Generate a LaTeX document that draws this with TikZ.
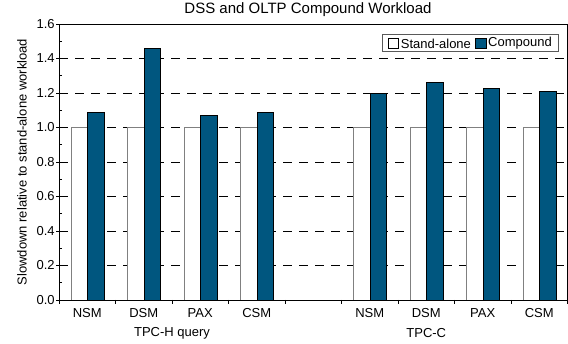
\documentclass[tikz,border=0pt]{standalone}
\usepackage{fontspec}
\setmainfont{Liberation Sans}
\usetikzlibrary{positioning}
\definecolor{cmpblue}{RGB}{0,86,127}

\begin{document}
\begin{tikzpicture}[x=1pt,y=1pt,line width=0.6pt,
                    font=\fontsize{13}{15}\selectfont,
                    alone/.style={draw=gray,fill=white},
                    cmp/.style={draw=black,fill=cmpblue},
                    gridline/.style={dash pattern=on 9pt off 7pt},
                    swatch/.style={draw=black,minimum size=10.5pt,inner sep=0pt}]
  \useasboundingbox (0,0) rectangle (568,343);

  \begin{scope}[shift={(59,43)},x=56.5pt,y=172.5pt]
    % dashed grid
    \foreach \v in {0.2,0.4,0.6,0.8,1.0,1.2,1.4}
      \draw[gridline] (0,\v) -- (9,\v);
    % bars
    \foreach \i/\h in {0/1.09,1/1.46,2/1.07,3/1.09,5/1.20,6/1.26,7/1.23,8/1.21} {
      \draw[alone] (\i+0.21,0) rectangle (\i+0.505,1);
      \draw[cmp] (\i+0.505,0) rectangle (\i+0.80,\h);
    }
    % frame and ticks
    \draw (0,0) -- (9,0) -- (9,1.6) -- (0,1.6) -- cycle;
    \foreach \v [count=\k] in {0.0,0.2,0.4,0.6,0.8,1.0,1.2,1.4,1.6}
      \draw (0,\v) -- ++(-3pt,0) node[left,inner sep=1pt] (Y\k) {\v};
    \foreach \v in {0.1,0.3,0.5,0.7,0.9,1.1,1.3,1.5}
      \draw (0,\v) -- ++(3pt,0);
    \foreach \i in {0,...,9}
      \draw (\i,0) -- ++(0,-4pt);
    % category labels
    \foreach \i/\n in {0/NSM,1/DSM,2/PAX,3/CSM,5/NSM,6/DSM,7/PAX,8/CSM}
      \node (C\i) at (\i+0.5,0) [yshift=-13pt] {\n};
    \node (GH) at (2,0) [yshift=-33pt] {TPC-H query};
    \node (GC) at (6.5,0) [yshift=-33pt] {TPC-C};
  \end{scope}

  \node (T) at (308,333) {\fontsize{15}{17}\selectfont DSS and OLTP Compound Workload};
  \node (YL) at (22,181) [rotate=90] {Slowdown relative to stand-alone workload};

  % legend
  \draw[gray!70!black] (382,292) rectangle (558,309);
  \node[swatch,fill=white] (LA) at (393.5,299.5) {};
  \node[inner sep=1pt,anchor=west] (LTA) [right=0.5pt of LA] {Stand-alone};
  \node[swatch,fill=cmpblue] (LC) [right=3pt of LTA] {};
  \node[inner sep=1pt,anchor=west] (LTC) [right=0.5pt of LC] {Compound};
\end{tikzpicture}
\end{document}
